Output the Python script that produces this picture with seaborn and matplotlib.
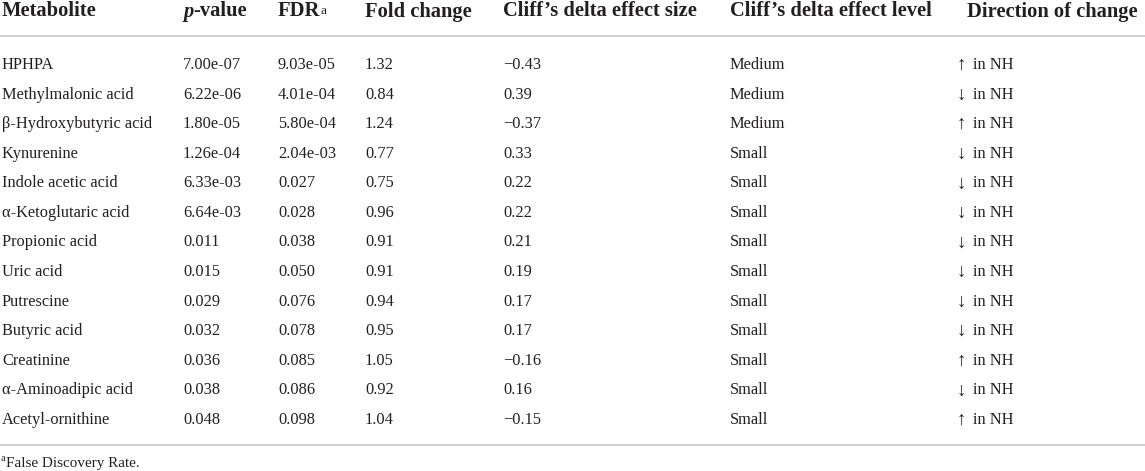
import matplotlib
matplotlib.use("Agg")
import matplotlib.pyplot as plt
import seaborn as sns

# table content
metabolites = ["HPHPA", "Methylmalonic acid", "\u03b2-Hydroxybutyric acid", "Kynurenine",
               "Indole acetic acid", "\u03b1-Ketoglutaric acid", "Propionic acid", "Uric acid",
               "Putrescine", "Butyric acid", "Creatinine", "\u03b1-Aminoadipic acid", "Acetyl-ornithine"]
p_values = ["7.00e-07", "6.22e-06", "1.80e-05", "1.26e-04", "6.33e-03", "6.64e-03", "0.011",
            "0.015", "0.029", "0.032", "0.036", "0.038", "0.048"]
fdr = ["9.03e-05", "4.01e-04", "5.80e-04", "2.04e-03", "0.027", "0.028", "0.038", "0.050",
       "0.076", "0.078", "0.085", "0.086", "0.098"]
fold_change = ["1.32", "0.84", "1.24", "0.77", "0.75", "0.96", "0.91", "0.91", "0.94", "0.95",
               "1.05", "0.92", "1.04"]
cliff_size = ["\u22120.43", "0.39", "\u22120.37", "0.33", "0.22", "0.22", "0.21", "0.19", "0.17",
              "0.17", "\u22120.16", "0.16", "\u22120.15"]
cliff_level = ["Medium", "Medium", "Medium"] + ["Small"] * 10
direction = ["\u2191 in NH", "\u2193 in NH", "\u2191 in NH", "\u2193 in NH", "\u2193 in NH",
             "\u2193 in NH", "\u2193 in NH", "\u2193 in NH", "\u2193 in NH", "\u2193 in NH",
             "\u2191 in NH", "\u2193 in NH", "\u2191 in NH"]
headers = ["Metabolite", None, None, "Fold change", "Cliff\u2019s delta effect size",
           "Cliff\u2019s delta effect level", "Direction of change"]
footnote = "False Discovery Rate."

sns.set_theme(style="white")
plt.rcParams['font.family'] = ['Liberation Serif', 'DejaVu Serif']

W, H = 1145, 471
fig = plt.figure(figsize=(W / 100, H / 100), dpi=100)
ax = fig.add_axes([0, 0, 1, 1])
ax.set_xlim(0, W)
ax.set_ylim(H, 0)
ax.axis("off")

txt = "#231f20"
col_x = [2, 183, 278, 365, 503, 730]
head_x = [2, 183, 278, 365, 503, 730, 967]
arrow_x, dir_x = 957, 973
head_y = 16.5
row0, row_step = 69, 29.58
hsize, bsize = 14.8, 11.8

# header
for x, h in zip(head_x, headers):
    if h:
        ax.text(x, head_y, h, fontsize=hsize, fontweight="bold", color=txt, va="baseline")
p = ax.text(head_x[1], head_y, "p", fontsize=hsize, fontstyle="italic", fontweight="bold",
            color=txt, va="baseline")
ax.annotate("-value", xy=(1, 0), xycoords=p, fontsize=hsize, fontweight="bold",
            color=txt, va="bottom")
f = ax.text(head_x[2], head_y, "FDR", fontsize=hsize, fontweight="bold", color=txt, va="baseline")
ax.annotate("a", xy=(1, 1), xycoords=f, xytext=(0, -2.3), textcoords="offset points",
            fontsize=9.5, color=txt, va="top")

ax.axhline(36, color="#c8c8c8", lw=1.2)
ax.axhline(445, color="#c8c8c8", lw=1.2)

columns = [metabolites, p_values, fdr, fold_change, cliff_size, cliff_level]
for i in range(len(metabolites)):
    y = row0 + i * row_step
    for x, col in zip(col_x, columns):
        ax.text(x, y, col[i], fontsize=bsize, color=txt, va="baseline")
    # arrow drawn a bit larger, like the thin tall arrows of the source
    ax.text(arrow_x, y + 1, direction[i][0], fontsize=13.5, color=txt, va="baseline")
    ax.text(dir_x, y, direction[i][2:], fontsize=bsize, color=txt, va="baseline")

ax.text(1, 461, "a", fontsize=7.5, color=txt, va="baseline")
ax.text(5.5, 467, footnote, fontsize=10.9, color=txt, va="baseline")

fig.savefig("out.png", dpi=100, facecolor="white")
